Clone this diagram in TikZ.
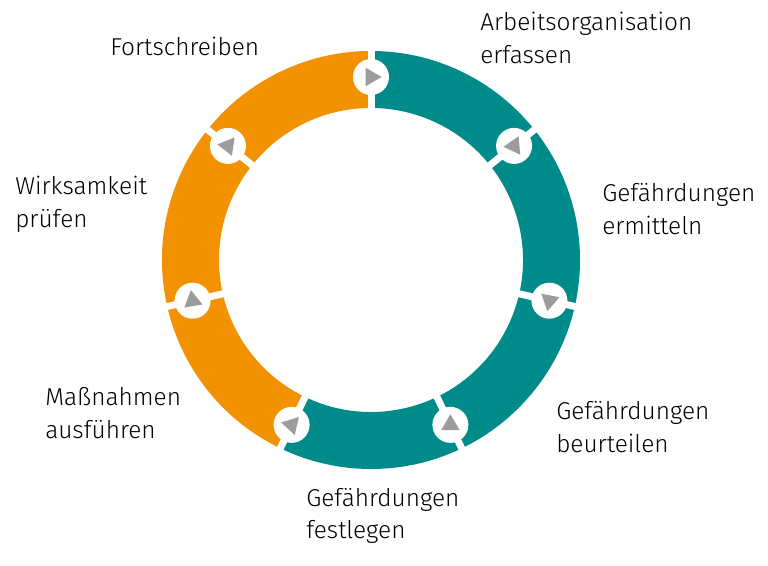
\documentclass[tikz,border=0pt]{standalone}
\usepackage{fontspec}
\setmainfont{Fira Sans}[UprightFont={* Light}]
\usetikzlibrary{shapes.geometric}
\definecolor{ringTeal}{HTML}{008B8B}
\definecolor{ringOrange}{HTML}{F39200}
\definecolor{triGray}{HTML}{9C9C9C}
\begin{document}
\begin{tikzpicture}[x=0.75pt, y=0.75pt,
      stepdot/.style={circle, fill=white, minimum size=27pt, inner sep=0pt},
      steptri/.style={regular polygon, regular polygon sides=3, fill=triGray,
                      minimum size=16pt, inner sep=0pt},
      gap/.style={white, line width=5.25pt},
      lbl/.style={font=\fontsize{18.3}{24.5}\selectfont, align=left,
                  anchor=west, inner sep=0pt}]
    \useasboundingbox (0,0) rectangle (768,566);
    \coordinate (ctr) at (371,306);
    % Ring
    \fill[ringTeal] ([shift={(90:209)}]ctr) arc[start angle=90, end angle=-115.714, radius=209]
      -- ([shift={(-115.714:152)}]ctr) arc[start angle=-115.714, end angle=90, radius=152] -- cycle;
    \fill[ringOrange] ([shift={(-115.714:209)}]ctr) arc[start angle=-115.714, end angle=-270, radius=209]
      -- ([shift={(-270:152)}]ctr) arc[start angle=-270, end angle=-115.714, radius=152] -- cycle;
    % Gaps
    \draw[gap] ([shift={(90:145)}]ctr) -- ([shift={(90:216)}]ctr);
    \draw[gap] ([shift={(38.571:145)}]ctr) -- ([shift={(38.571:216)}]ctr);
    \draw[gap] ([shift={(-12.857:145)}]ctr) -- ([shift={(-12.857:216)}]ctr);
    \draw[gap] ([shift={(-64.286:145)}]ctr) -- ([shift={(-64.286:216)}]ctr);
    \draw[gap] ([shift={(-115.714:145)}]ctr) -- ([shift={(-115.714:216)}]ctr);
    \draw[gap] ([shift={(-167.143:145)}]ctr) -- ([shift={(-167.143:216)}]ctr);
    \draw[gap] ([shift={(141.429:145)}]ctr) -- ([shift={(141.429:216)}]ctr);
    % Markers
    \node[stepdot] (m1) at ([shift={(90:183)}]ctr) {};
    \node[stepdot] (m2) at ([shift={(38.571:183)}]ctr) {};
    \node[stepdot] (m3) at ([shift={(-12.857:183)}]ctr) {};
    \node[stepdot] (m4) at ([shift={(-64.286:183)}]ctr) {};
    \node[stepdot] (m5) at ([shift={(-115.714:183)}]ctr) {};
    \node[stepdot] (m6) at ([shift={(-167.143:183)}]ctr) {};
    \node[stepdot] (m7) at ([shift={(141.429:183)}]ctr) {};
    \node[steptri, rotate=-90] (t1) at (m1) {};
    \node[steptri, rotate=95]  (t2) at (m2) {};
    \node[steptri, rotate=169] (t3) at (m3) {};
    \node[steptri, rotate=0]   (t4) at (m4) {};
    \node[steptri, rotate=-163] (t5) at (m5) {};
    \node[steptri, rotate=-111] (t6) at (m6) {};
    \node[steptri, rotate=82]  (t7) at (m7) {};
    % Labels
    \node[lbl] (arbeit)    at (480,528) {Arbeitsorganisation\\erfassen};
    \node[lbl] (ermitteln) at (602,357) {Gef\"ahrdungen\\ermitteln};
    \node[lbl] (beurteil)  at (556,139) {Gef\"ahrdungen\\beurteilen};
    \node[lbl] (festlegen) at (306,50)  {Gef\"ahrdungen\\festlegen};
    \node[lbl] (massnahme) at (45,153)  {Ma\ss nahmen\\ausf\"uhren};
    \node[lbl] (wirksam)   at (15,362)  {Wirksamkeit\\pr\"ufen};
    \node[lbl] (fortschr)  at (110,520) {Fortschreiben};
  \end{tikzpicture}
\end{document}
